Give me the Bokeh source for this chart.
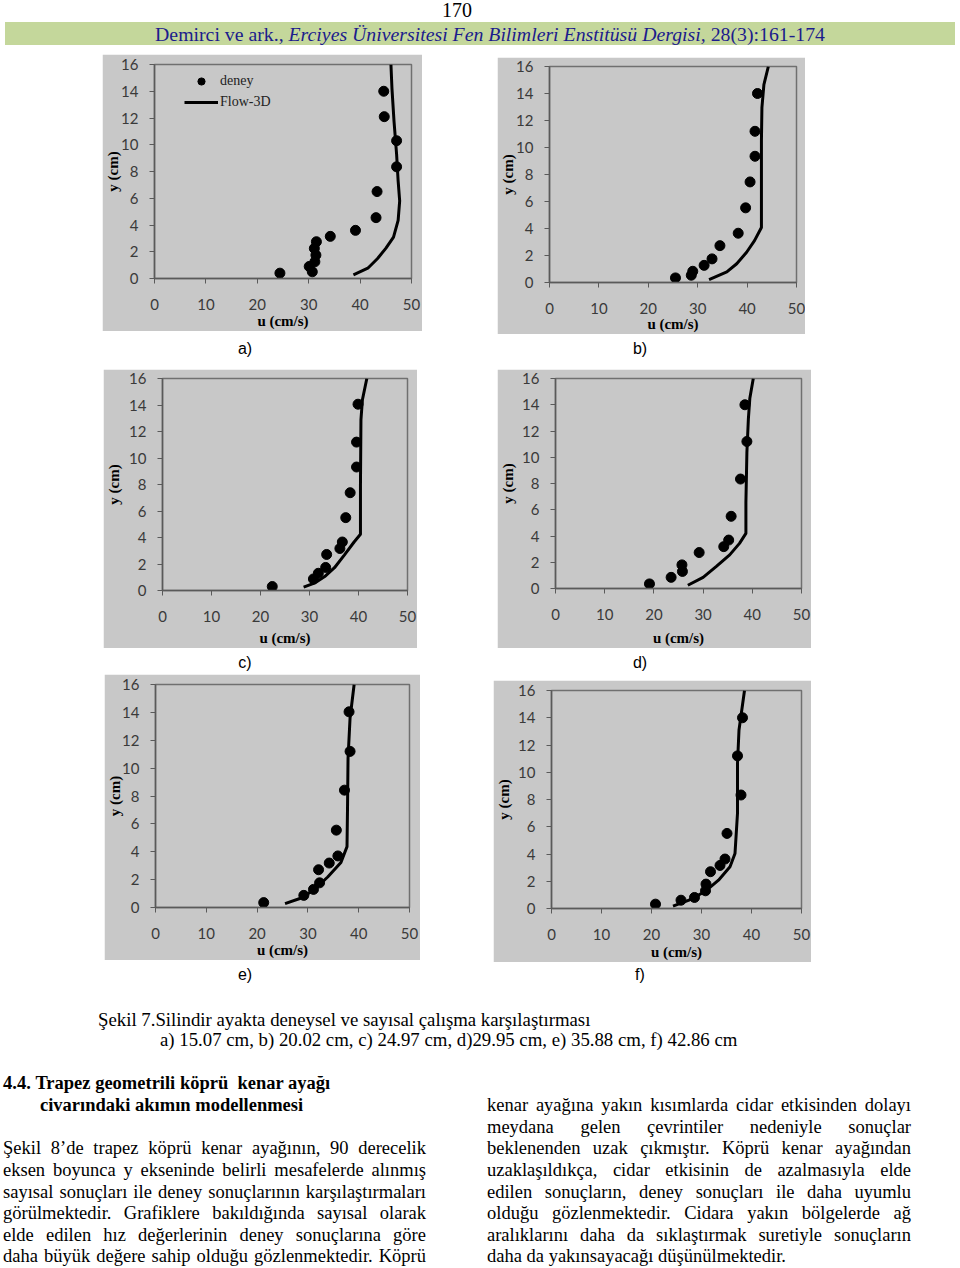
from bokeh.plotting import figure
from bokeh.models import Range1d, FixedTicker, Legend, LegendItem, Div, Spacer
from bokeh.layouts import column, row
from bokeh.embed import file_html
from bokeh.resources import INLINE

# ---------------- data ----------------
x_ticks = [0, 10, 20, 30, 40, 50]
y_ticks = [0, 2, 4, 6, 8, 10, 12, 14, 16]
x_title = "u (cm/s)"
y_title = "y (cm)"
series_names = ["deney", "Flow-3D"]
panel_labels = ["a)", "b)", "c)", "d)", "e)", "f)"]

a_deney_u = [24.4, 30.1, 30.7, 31.2, 31.4, 31.1, 31.5, 34.2, 39.1, 43.1, 43.3, 47.1, 47.1, 44.7, 44.6]
a_deney_y = [0.4, 0.9, 0.5, 1.25, 1.75, 2.25, 2.75, 3.15, 3.6, 4.55, 6.5, 8.35, 10.3, 12.1, 14.0]
a_flow_u = [38.7, 41.5, 43.4, 45.0, 46.5, 47.4, 47.7, 47.4, 47.1, 46.6, 46.2, 46.0]
a_flow_y = [0.27, 0.77, 1.5, 2.25, 3.1, 4.35, 5.8, 7.3, 9.3, 11.75, 14.2, 16.0]

b_deney_u = [25.5, 28.7, 29.0, 31.3, 32.9, 34.5, 38.2, 39.7, 40.6, 41.6, 41.6, 42.1]
b_deney_y = [0.34, 0.54, 0.83, 1.27, 1.75, 2.73, 3.65, 5.53, 7.45, 9.35, 11.2, 14.0]
b_flow_u = [32.3, 35.9, 37.9, 39.9, 41.5, 42.9, 42.9, 42.9, 43.0, 43.4, 44.3]
b_flow_y = [0.22, 0.78, 1.39, 2.24, 3.1, 4.07, 6.87, 10.5, 12.96, 14.66, 16.0]

c_deney_u = [22.4, 30.8, 31.8, 33.3, 33.5, 36.2, 36.7, 37.4, 38.3, 39.6, 39.6, 39.9]
c_deney_y = [0.3, 0.87, 1.3, 1.74, 2.72, 3.17, 3.66, 5.5, 7.38, 9.32, 11.2, 14.06]
c_flow_u = [28.8, 31.0, 33.1, 35.1, 37.1, 39.1, 40.4, 40.4, 40.5, 40.8, 41.7]
c_flow_y = [0.25, 0.55, 1.05, 1.72, 2.67, 3.66, 4.24, 7.9, 12.9, 14.4, 16.0]

d_deney_u = [19.1, 23.5, 25.8, 25.7, 29.2, 34.2, 35.2, 35.7, 37.6, 38.9, 38.5]
d_deney_y = [0.35, 0.85, 1.3, 1.8, 2.74, 3.19, 3.69, 5.5, 8.34, 11.2, 14.0]
d_flow_u = [26.9, 30.0, 32.7, 35.4, 37.4, 38.7, 38.7, 38.9, 39.2, 39.5, 40.2]
d_flow_y = [0.25, 0.85, 1.68, 2.56, 3.44, 4.2, 6.58, 10.35, 12.9, 14.5, 16.0]

e_deney_u = [21.3, 29.2, 31.1, 32.3, 32.1, 34.2, 35.9, 35.6, 37.2, 38.3, 38.1]
e_deney_y = [0.35, 0.87, 1.3, 1.77, 2.71, 3.19, 3.7, 5.55, 8.42, 11.2, 14.04]
e_flow_u = [25.5, 28.7, 31.3, 33.9, 36.5, 37.7, 37.8, 37.9, 38.3, 39.1]
e_flow_y = [0.28, 0.68, 1.3, 2.19, 3.23, 4.37, 7.2, 10.7, 13.6, 16.0]

f_deney_u = [20.8, 25.9, 28.6, 30.8, 30.9, 31.8, 33.7, 34.7, 35.1, 37.9, 37.2, 38.2]
f_deney_y = [0.32, 0.61, 0.81, 1.3, 1.79, 2.7, 3.16, 3.63, 5.51, 8.33, 11.2, 14.0]
f_flow_u = [24.3, 27.5, 30.8, 33.4, 35.7, 36.7, 37.2, 37.2, 37.5, 38.6]
f_flow_y = [0.17, 0.61, 1.27, 2.08, 3.06, 4.04, 6.99, 10.66, 13.1, 16.0]

page_number = "170"
header_plain1 = "Demirci ve ark., "
header_italic = "Erciyes Üniversitesi Fen Bilimleri Enstitüsü Dergisi,"
header_plain2 = " 28(3):161-174"
caption1 = "Şekil 7.Silindir ayakta deneysel ve sayısal çalışma karşılaştırması"
caption2 = "a) 15.07 cm, b) 20.02 cm, c) 24.97 cm, d)29.95 cm, e) 35.88 cm, f) 42.86 cm"
heading1 = "4.4.&nbsp;Trapez geometrili köprü &nbsp;kenar ayağı"
heading2 = "civarındaki akımın modellenmesi"
left_lines = [
    "Şekil 8’de trapez köprü kenar ayağının, 90 derecelik",
    "eksen boyunca y ekseninde belirli mesafelerde alınmış",
    "sayısal sonuçları ile deney sonuçlarının karşılaştırmaları",
    "görülmektedir. Grafiklere bakıldığında sayısal olarak",
    "elde edilen hız değerlerinin deney sonuçlarına göre",
    "daha büyük değere sahip olduğu gözlenmektedir. Köprü",
]
right_lines = [
    "kenar ayağına yakın kısımlarda cidar etkisinden dolayı",
    "meydana gelen çevrintiler nedeniyle sonuçlar",
    "beklenenden uzak çıkmıştır. Köprü kenar ayağından",
    "uzaklaşıldıkça, cidar etkisinin de azalmasıyla elde",
    "edilen sonuçların, deney sonuçları ile daha uyumlu",
    "olduğu gözlenmektedir. Cidara yakın bölgelerde ağ",
    "aralıklarını daha da sıklaştırmak suretiyle sonuçların",
    "daha da yakınsayacağı düşünülmektedir.",
]

# ---------------- styling ----------------
GRAY = "#c8c8c8"
AXC = "#5a5a5a"
SERIF = "Liberation Serif"
SANS = "Liberation Sans"


def make_chart(du, dy, fu, fy, W, H, L, R, T, B, xls, yls, legend=False):
    p = figure(width=W, height=H, x_range=Range1d(0, 50), y_range=Range1d(0, 16),
               output_backend="svg", toolbar_location=None,
               min_border_left=L, min_border_right=R, min_border_top=T, min_border_bottom=B)
    p.background_fill_color = GRAY
    p.border_fill_color = GRAY
    p.outline_line_color = "#707070"
    p.outline_line_width = 1.5
    p.grid.visible = False
    ln = p.line(fu, fy, line_color="black", line_width=3)
    sc = p.scatter(du, dy, size=10, marker="circle", fill_color="black", line_color="black")
    for ax in (p.xaxis[0], p.yaxis[0]):
        ax.axis_line_color = AXC
        ax.axis_line_width = 1.5
        ax.major_tick_line_color = AXC
        ax.major_tick_line_width = 1
        ax.major_tick_out = 5
        ax.major_tick_in = 0
        ax.minor_tick_line_color = None
        ax.major_label_text_font = "Lato"
        ax.major_label_text_font_size = "15px"
        ax.major_label_text_color = "#3a3a3a"
        ax.axis_label_text_font = SERIF
        ax.axis_label_text_font_style = "bold"
        ax.axis_label_text_font_size = "15px"
        ax.axis_label_text_color = "black"
    p.xaxis.ticker = FixedTicker(ticks=x_ticks)
    p.xaxis.axis_label = x_title
    p.xaxis.major_label_standoff = 15
    p.xaxis.axis_label_standoff = xls
    p.yaxis.ticker = FixedTicker(ticks=y_ticks)
    p.yaxis.axis_label = y_title
    p.yaxis.major_label_standoff = 11
    p.yaxis.axis_label_standoff = yls
    if legend:
        lg = Legend(items=[LegendItem(label=series_names[0], renderers=[sc]),
                           LegendItem(label=series_names[1], renderers=[ln])],
                    location=(30, 167), orientation="vertical")
        lg.background_fill_alpha = 0
        lg.border_line_alpha = 0
        lg.padding = 0
        lg.margin = 0
        lg.spacing = 3
        lg.glyph_width = 34
        lg.glyph_height = 18
        lg.label_height = 18
        lg.label_standoff = 2
        lg.label_text_font = SERIF
        lg.label_text_font_size = "14px"
        lg.label_text_color = "#222222"
        p.add_layout(lg)
    return p


fa = make_chart(a_deney_u, a_deney_y, a_flow_u, a_flow_y, 320, 277, 49, 11, 10, 51, 0, -3, legend=True)
fb = make_chart(b_deney_u, b_deney_y, b_flow_u, b_flow_y, 308, 277, 49, 9, 9, 49, -1, -3)
fc = make_chart(c_deney_u, c_deney_y, c_flow_u, c_flow_y, 314, 279, 57, 10, 9, 56, 5, 4)
fd = make_chart(d_deney_u, d_deney_y, d_flow_u, d_flow_y, 314, 279, 55, 10, 9, 58, 7, 3)
fe = make_chart(e_deney_u, e_deney_y, e_flow_u, e_flow_y, 316, 286, 48, 11, 10, 50, 0, -4)
ff = make_chart(f_deney_u, f_deney_y, f_flow_u, f_flow_y, 318, 282, 54, 10, 10, 54, 1, 3)


def item(html, left, cy, size, family=SERIF, width=None, align="left", lh=20, extra=""):
    w = f"width:{width}px;" if width is not None else "white-space:nowrap;"
    top = cy - lh / 2
    return (f'<div style="position:absolute;left:{left}px;top:{top}px;{w}'
            f'font-family:\'{family}\';font-size:{size}px;line-height:{lh}px;'
            f'text-align:{align};color:#000;{extra}">{html}</div>')


def absdiv(parts, h, w=944):
    html = f'<div style="position:relative;width:{w}px;height:{h}px;">' + "".join(parts) + "</div>"
    return Div(text=html, width=w, height=h, margin=0, styles={"overflow": "visible"})


# header (page y 0..53)
hdr_parts = [
    item(page_number, 427, 10, 20, width=60, align="center", lh=22),
    '<div style="position:absolute;left:5px;top:22px;width:950px;height:23px;background:#c4d79b;"></div>',
    item(f'{header_plain1}<i>{header_italic}</i>{header_plain2}', 40, 33.5, 19.8, width=900,
         align="center", lh=22, extra="color:#1c1c8c;"),
]
header = absdiv(hdr_parts, 53)

lab1 = absdiv([item(panel_labels[0], 225, 15, 16, SANS, 40, "center"),
               item(panel_labels[1], 620, 15, 16, SANS, 40, "center")], 28)
lab2 = absdiv([item(panel_labels[2], 225, 15, 16, SANS, 40, "center"),
               item(panel_labels[3], 620, 15, 16, SANS, 40, "center")], 24)

FS = 18.5
CS = 18.8
bot_parts = [
    item(panel_labels[4], 225, 13, 16, SANS, 40, "center"),
    item(panel_labels[5], 620, 13, 16, SANS, 40, "center"),
    item(caption1, 98, 58, CS),
    item(caption2, 160, 78, CS),
    item(heading1, 3, 121, FS, extra="font-weight:bold;"),
    item(heading2, 40, 143, FS, extra="font-weight:bold;"),
]
left_cy = [186, 208, 230, 251, 273, 294]
for t, cy in zip(left_lines, left_cy):
    bot_parts.append(item(t, 3, cy, FS, width=423, align="justify", extra="text-align-last:justify;"))
right_cy = [143, 165, 186, 208, 230, 251, 273, 294]
for i, (t, cy) in enumerate(zip(right_lines, right_cy)):
    last = i == len(right_lines) - 1
    bot_parts.append(item(t, 487, cy, FS, width=424, align="left" if last else "justify",
                          extra="" if last else "text-align-last:justify;"))
bottom = absdiv(bot_parts, 306)

row1 = row(Spacer(width=102, height=10), column(Spacer(width=320, height=1), fa),
           Spacer(width=75, height=10), column(Spacer(width=308, height=4), fb))
row2 = row(Spacer(width=103, height=10), column(Spacer(width=314, height=7), fc),
           Spacer(width=80, height=10), column(Spacer(width=314, height=7), fd))
row3 = row(Spacer(width=104, height=10), column(Spacer(width=316, height=2), fe),
           Spacer(width=73, height=10), column(Spacer(width=318, height=8), ff))

page = column(header, row1, lab1, row2, lab2, row3, bottom)

open("out.html", "w").write(file_html(page, INLINE))
